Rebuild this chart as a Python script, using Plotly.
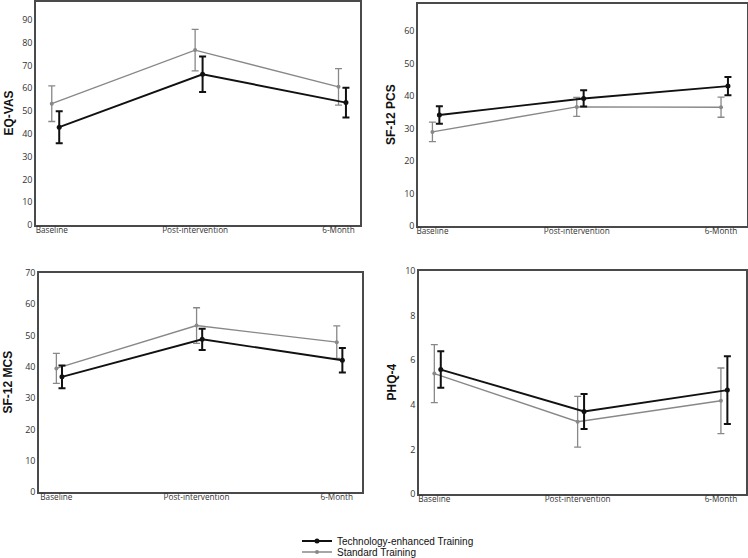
import plotly.graph_objects as go

timepoints = ["Baseline", "Post-intervention", "6-Month"]

eqvas_tech = [42.9, 66.1, 53.7]
eqvas_tech_err = [7.0, 7.8, 6.5]
eqvas_std = [53.2, 76.7, 60.6]
eqvas_std_err = [7.8, 9.1, 8.0]

pcs_tech = [34.2, 39.3, 43.1]
pcs_tech_err = [2.7, 2.5, 2.8]
pcs_std = [29.0, 36.7, 36.6]
pcs_std_err = [3.0, 2.9, 3.1]

mcs_tech = [36.8, 48.8, 42.1]
mcs_tech_err = [3.6, 3.4, 3.9]
mcs_std = [39.5, 53.2, 47.9]
mcs_std_err = [4.8, 5.7, 5.2]

phq_tech = [5.58, 3.70, 4.66]
phq_tech_err = [0.82, 0.78, 1.52]
phq_std = [5.40, 3.24, 4.18]
phq_std_err = [1.30, 1.14, 1.47]

W, H = 748, 558

panels = [
    dict(title="EQ-VAS", tech=eqvas_tech, tech_err=eqvas_tech_err, std=eqvas_std, std_err=eqvas_std_err,
         px=(36, 360), py=(2, 225), xr=(-0.11, 2.15), yr=(0, 97.8), dt=10, off=0.052, tx=8),
    dict(title="SF-12 PCS", tech=pcs_tech, tech_err=pcs_tech_err, std=pcs_std, std_err=pcs_std_err,
         px=(418, 747), py=(4, 226), xr=(-0.10, 2.18), yr=(0, 68.4), dt=10, off=0.048, tx=391),
    dict(title="SF-12 MCS", tech=mcs_tech, tech_err=mcs_tech_err, std=mcs_std, std_err=mcs_std_err,
         px=(39, 362), py=(273, 492), xr=(-0.124, 2.18), yr=(0, 70), dt=10, off=0.040, tx=8),
    dict(title="PHQ-4", tech=phq_tech, tech_err=phq_tech_err, std=phq_std, std_err=phq_std_err,
         px=(419, 746), py=(271, 494), xr=(-0.107, 2.175), yr=(0, 10), dt=2, off=0.045, tx=392),
]

TECH = "#111111"
STD = "#888888"
FRAME = "#4a4a4a"

fig = go.Figure()
annotations = []
layout = {}
for i, p in enumerate(panels, start=1):
    xa = "x" if i == 1 else f"x{i}"
    ya = "y" if i == 1 else f"y{i}"
    xs = list(range(len(timepoints)))
    fig.add_trace(go.Scatter(
        x=xs, y=p["std"], xaxis=xa, yaxis=ya, mode="lines+markers",
        name="Standard Training", legend="legend2", showlegend=(i == 1),
        line=dict(color=STD, width=1.4), marker=dict(color=STD, size=4),
        error_y=dict(type="data", array=p["std_err"], color=STD, thickness=1.3, width=3.5),
    ))
    fig.add_trace(go.Scatter(
        x=[v + p["off"] for v in xs], y=p["tech"], xaxis=xa, yaxis=ya, mode="lines+markers",
        name="Technology-enhanced Training", legend="legend", showlegend=(i == 1),
        line=dict(color=TECH, width=1.9), marker=dict(color=TECH, size=5),
        error_y=dict(type="data", array=p["tech_err"], color=TECH, thickness=2, width=3.5),
    ))
    x0, x1 = p["px"]
    y0, y1 = p["py"]
    axis_common = dict(showline=True, linecolor=FRAME, linewidth=1.5, mirror=True,
                       showgrid=False, zeroline=False, ticks="", automargin=False)
    layout["xaxis" if i == 1 else f"xaxis{i}"] = dict(
        domain=[x0 / W, x1 / W], range=list(p["xr"]), anchor=ya,
        tickmode="array", tickvals=xs, ticktext=timepoints,
        tickfont=dict(family="Open Sans", size=8.2, color="#333333"),
        ticklabelstandoff=-4, **axis_common)
    layout["yaxis" if i == 1 else f"yaxis{i}"] = dict(
        domain=[1 - y1 / H, 1 - y0 / H], range=list(p["yr"]), anchor=xa,
        tickmode="linear", tick0=0, dtick=p["dt"],
        tickfont=dict(family="Open Sans", size=9, color="#333333"), **axis_common)
    annotations.append(dict(
        text=f"<b>{p['title']}</b>", xref="paper", yref="paper",
        x=p["tx"] / W, y=1 - ((y0 + y1) / 2) / H, textangle=-90, showarrow=False,
        xanchor="center", yanchor="middle",
        font=dict(family="Liberation Sans", size=12, color="#111111")))

legend_font = dict(family="Liberation Sans", size=10, color="#111111")
fig.update_layout(
    width=W, height=H, margin=dict(l=0, r=0, t=0, b=0, autoexpand=False),
    paper_bgcolor="white", plot_bgcolor="white",
    annotations=annotations,
    legend=dict(x=297 / W, y=1 - 541 / H, xanchor="left", yanchor="middle",
                xref="container", yref="container",
                font=legend_font, itemwidth=30, bgcolor="rgba(0,0,0,0)",
                tracegroupgap=0),
    legend2=dict(x=297 / W, y=1 - 552 / H, xanchor="left", yanchor="middle",
                 xref="container", yref="container",
                 font=legend_font, itemwidth=30, bgcolor="rgba(0,0,0,0)",
                 tracegroupgap=0),
    **layout,
)

fig.write_html("out.html")
